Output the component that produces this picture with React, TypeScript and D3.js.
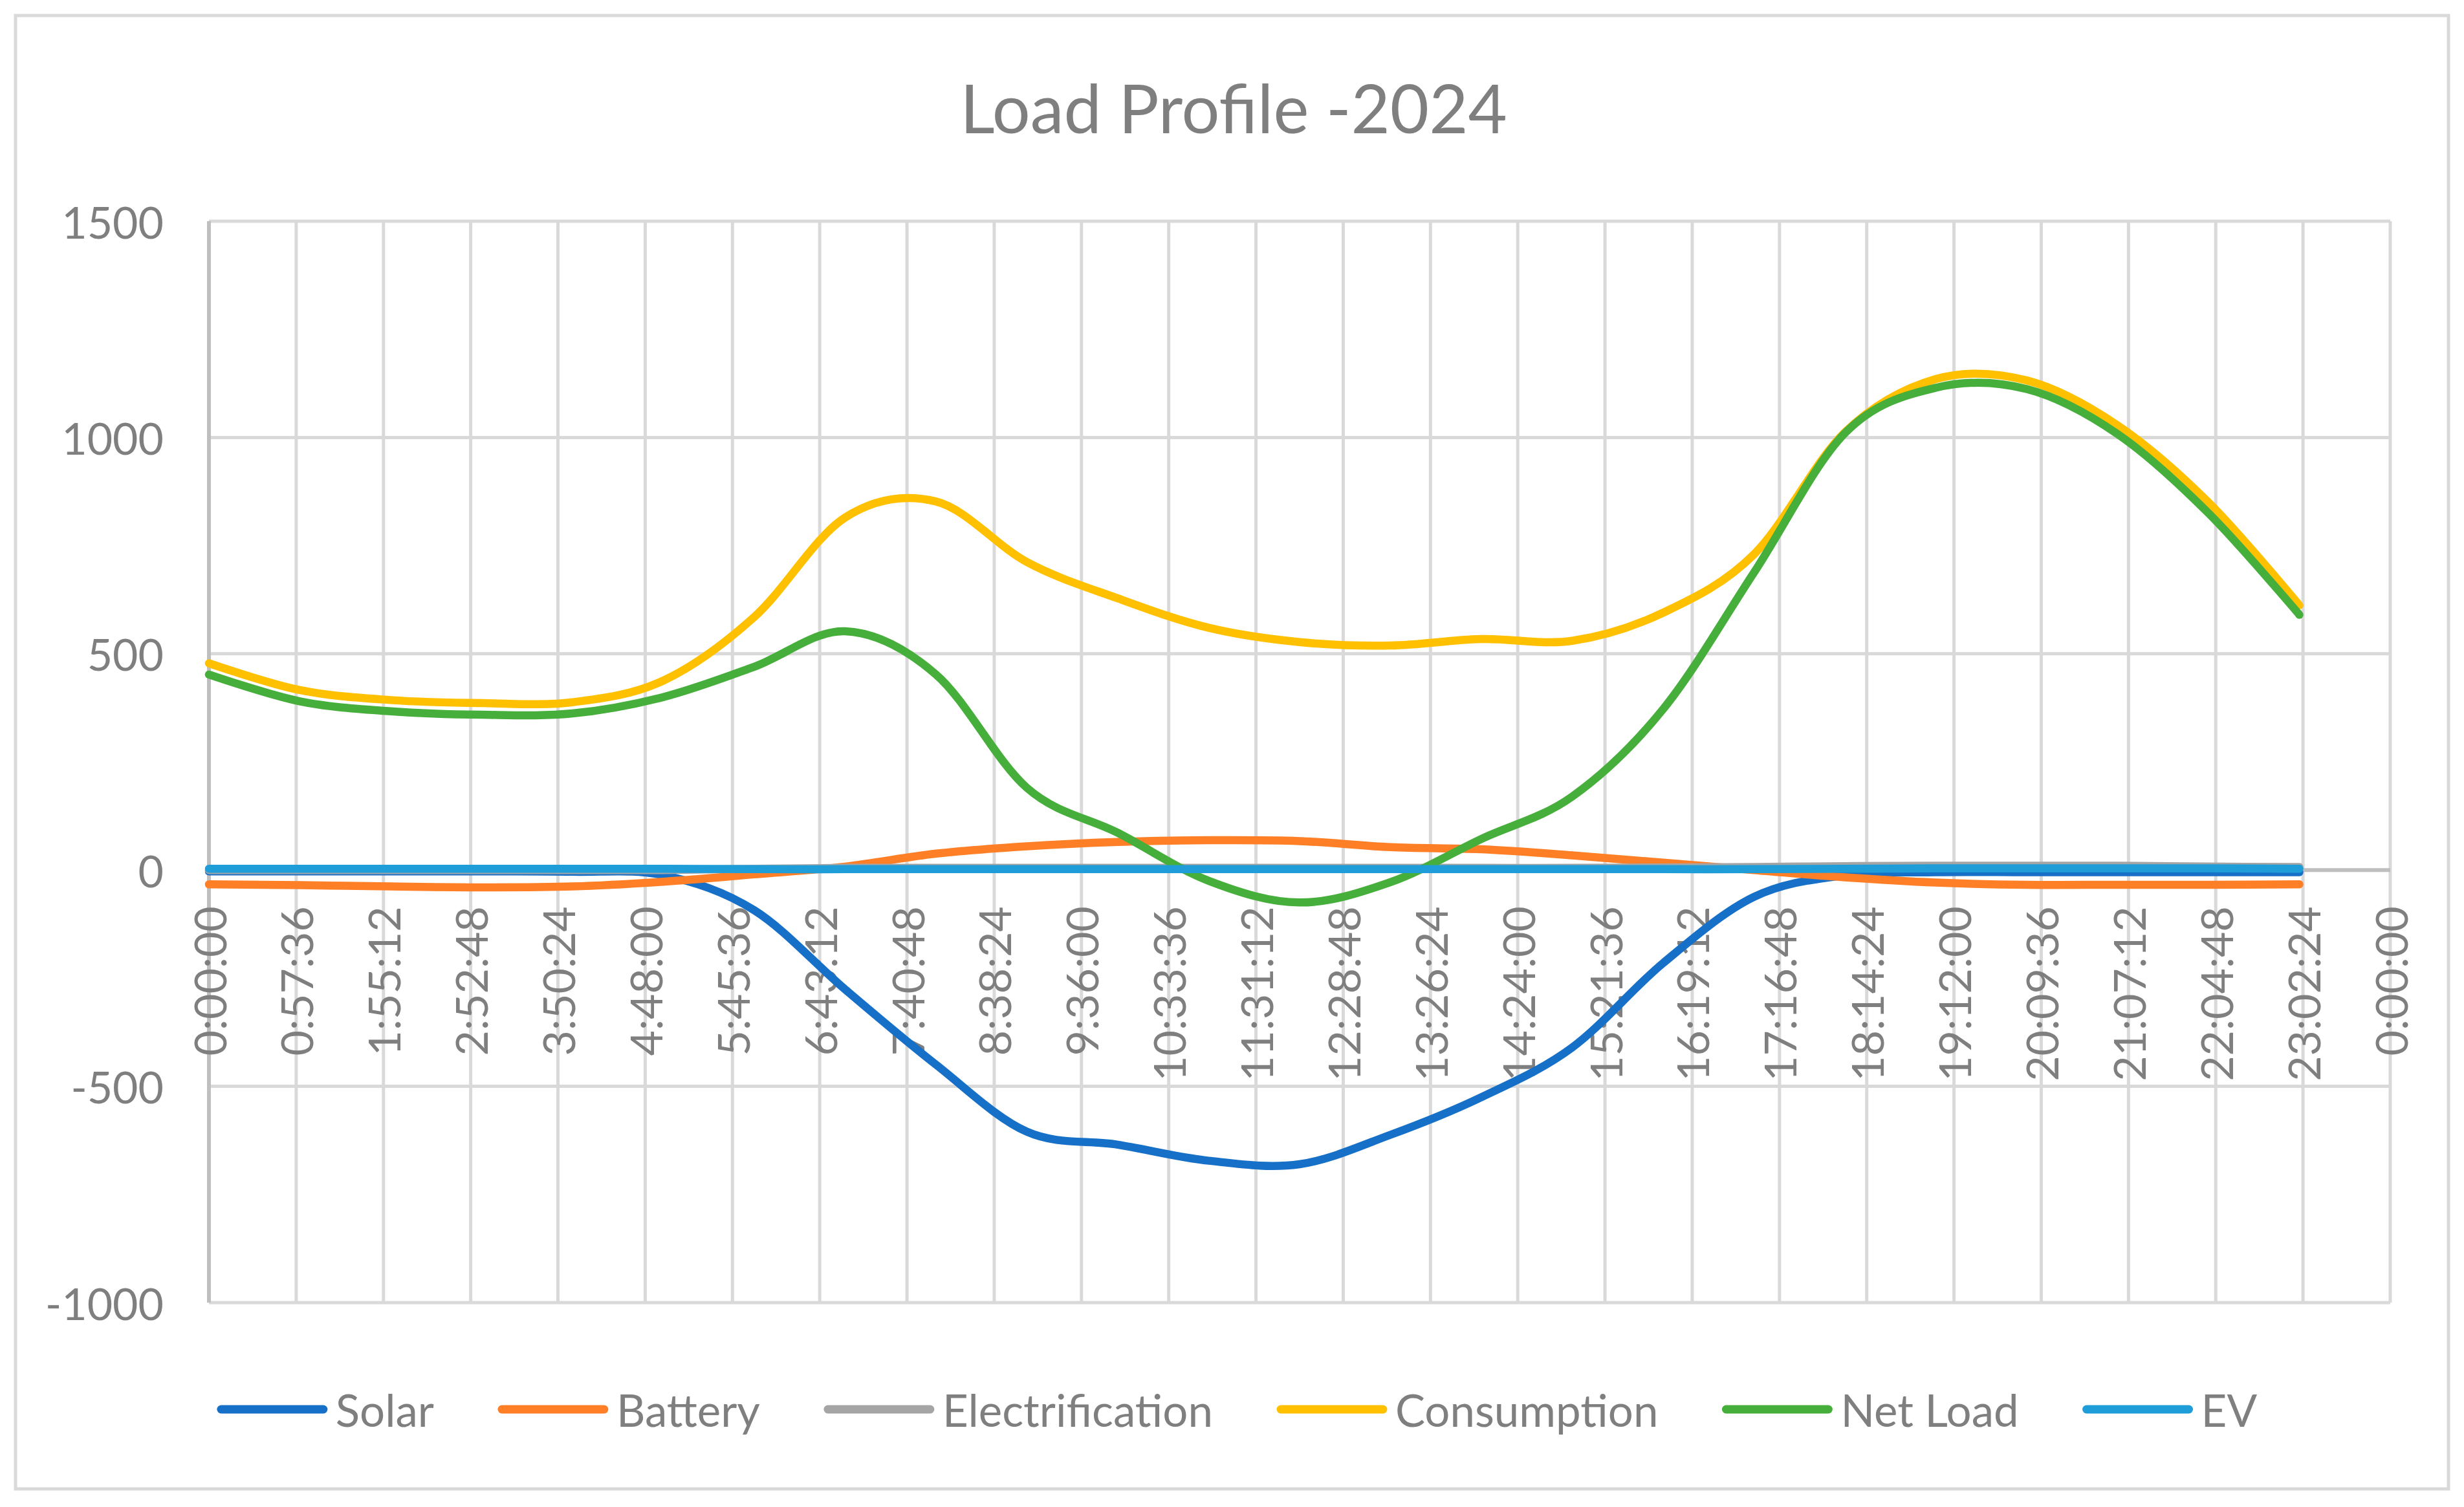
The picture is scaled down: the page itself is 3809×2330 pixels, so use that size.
import * as d3 from "d3";
import { useEffect } from "react";

// hourly samples, 0:00 .. 23:00
const hours = [0, 1, 2, 3, 4, 5, 6, 7, 8, 9, 10, 11, 12, 13, 14, 15, 16, 17, 18, 19, 20, 21, 22, 23];

const solar = [-3, -3, -3, -3, -4, -12, -93, -276, -450, -605, -635, -672, -680, -612, -525, -410, -215, -62, -12, -5, -5, -5, -5, -5];
const battery = [-33, -35, -38, -40, -38, -27, -10, 8, 38, 55, 65, 69, 67, 53, 48, 34, 17, 0, -17, -29, -34, -34, -34, -33];
const electrification = [0, 0, 0, 0, 0, 0, 3, 5, 5, 5, 5, 5, 5, 5, 5, 5, 6, 7, 9, 10, 10, 10, 8, 7];
const consumption = [478, 416, 393, 386, 388, 438, 585, 815, 852, 712, 628, 560, 527, 519, 534, 530, 595, 730, 1012, 1135, 1132, 1028, 850, 612];
const netLoad = [452, 390, 367, 359, 362, 400, 470, 552, 452, 190, 86, -25, -75, -28, 72, 170, 372, 688, 1010, 1115, 1112, 1008, 825, 590];
const ev = [3, 3, 3, 3, 3, 3, 2, 2, 2, 2, 2, 2, 2, 2, 2, 2, 2, 2, 3, 4, 4, 4, 4, 3];

const seriesNames = ["Solar", "Battery", "Electrification", "Consumption", "Net Load", "EV"];
const seriesColors = ["#1770c8", "#ff7f27", "#a5a5a5", "#ffc000", "#46ae3a", "#1e9dd8"];
const seriesValues = [solar, battery, electrification, consumption, netLoad, ev];

const yTicks = [-1000, -500, 0, 500, 1000, 1500];
const xStepHours = 0.96; // 0:57:36
const xTickCount = 26;

const W = 3809;
const H = 2330;
const FONT = "Lato, 'Open Sans', sans-serif";
const TEXT = "#7f7f7f";

function fmtTime(h: number) {
  const s = Math.round(h * 3600) % 86400;
  const hh = Math.floor(s / 3600);
  const mm = Math.floor((s % 3600) / 60);
  const ss = s % 60;
  return `${hh}:${String(mm).padStart(2, "0")}:${String(ss).padStart(2, "0")}`;
}

function textWidth(str: string, size: number) {
  const c = document.createElement("canvas").getContext("2d");
  if (!c) return str.length * size * 0.5;
  c.font = `${size}px Lato`;
  return c.measureText(str).width;
}

export default function App() {
  useEffect(() => {
    document.body.style.margin = "0";
  }, []);

  const x = d3.scaleLinear().domain([0, 24]).range([323, 3695]);
  const y = d3.scaleLinear().domain([-1000, 1500]).range([2014, 342]);
  const xTicks = d3.range(xTickCount).map((i) => i * xStepHours);

  const line = d3
    .line<number>()
    .x((_, i) => x(hours[i]))
    .y((d) => y(d))
    .curve(d3.curveCardinal.tension(0));

  // legend layout
  const lgSize = 69;
  const sample = 172;
  const gapLine = 12;
  const gapItem = 98;
  const widths = seriesNames.map((n) => textWidth(n, lgSize));
  const total = d3.sum(widths) + seriesNames.length * (sample + gapLine) + (seriesNames.length - 1) * gapItem;
  let cursor = 1912 - total / 2;
  const legendItems = seriesNames.map((n, i) => {
    const start = cursor;
    cursor += sample + gapLine + widths[i] + gapItem;
    return { name: n, color: seriesColors[i], start };
  });
  const legendY = 2179;

  return (
    <svg width={W} height={H} viewBox={`0 0 ${W} ${H}`} style={{ display: "block" }} fontFamily={FONT}>
      <rect x={0} y={0} width={W} height={H} fill="#fff" />
      <rect x={24} y={24} width={W - 48} height={H - 52} fill="#fff" stroke="#d9d9d9" strokeWidth={5} />

      <text x={1907} y={206} textAnchor="middle" fontSize={104} fill={TEXT}>
        Load Profile -2024
      </text>

      {/* gridlines */}
      <g stroke="#d9d9d9" strokeWidth={5}>
        {yTicks.map((t) => (
          <line key={`gy${t}`} x1={x(0)} x2={x(24)} y1={y(t)} y2={y(t)} />
        ))}
        {xTicks.map((t, i) => (i === 0 ? null : <line key={`gx${i}`} x1={x(t)} x2={x(t)} y1={y(1500)} y2={y(-1000)} />))}
      </g>
      <g stroke="#bfbfbf" strokeWidth={6}>
        <line x1={x(0)} x2={x(0)} y1={y(1500)} y2={y(-1000)} />
        <line x1={x(0)} x2={x(24)} y1={y(0)} y2={y(0)} />
      </g>

      {/* y labels */}
      <g fontSize={68} fill={TEXT} textAnchor="end">
        {yTicks.map((t) => (
          <text key={`yl${t}`} x={253} y={y(t)} dominantBaseline="central">
            {t}
          </text>
        ))}
      </g>

      {/* x labels */}
      <g fontSize={68} fill={TEXT} textAnchor="end">
        {xTicks.map((t, i) => (
          <text
            key={`xl${i}`}
            transform={`translate(${x(t)},${y(0) + 56}) rotate(-90)`}
            dominantBaseline="central"
          >
            {fmtTime(t)}
          </text>
        ))}
      </g>

      {/* series */}
      <g fill="none" strokeWidth={12.5} strokeLinecap="round" strokeLinejoin="round">
        {seriesValues.map((vals, i) => (
          <path key={seriesNames[i]} d={line(vals) ?? ""} stroke={seriesColors[i]} />
        ))}
      </g>

      {/* legend */}
      <g fontSize={lgSize} fill={TEXT}>
        {legendItems.map((it) => (
          <g key={it.name}>
            <line
              x1={it.start + 7}
              x2={it.start + sample - 7}
              y1={legendY}
              y2={legendY}
              stroke={it.color}
              strokeWidth={13}
              strokeLinecap="round"
            />
            <text x={it.start + sample + gapLine} y={legendY} dominantBaseline="central">
              {it.name}
            </text>
          </g>
        ))}
      </g>
    </svg>
  );
}
